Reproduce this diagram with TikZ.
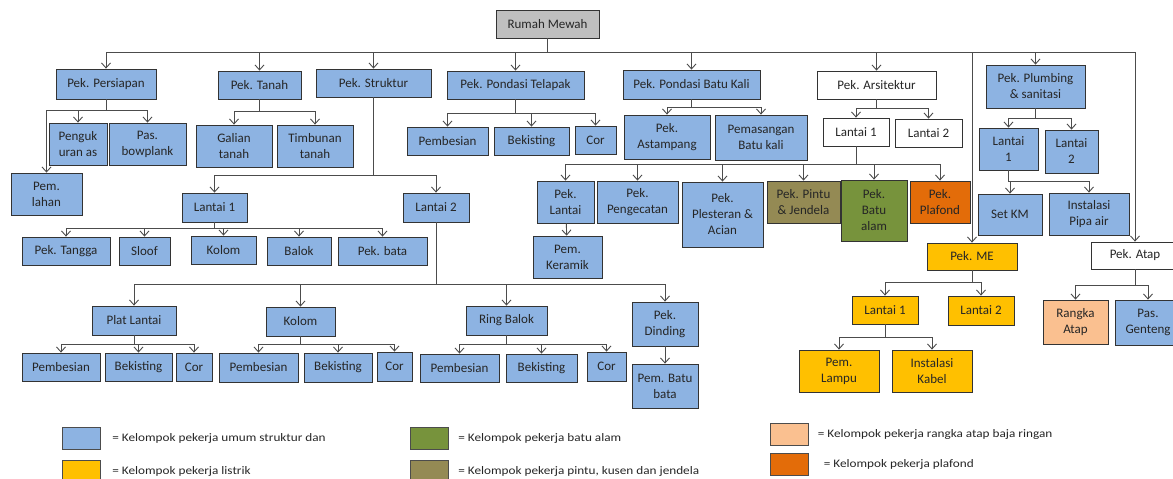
\documentclass[tikz,border=0pt]{standalone}
\usepackage{fontspec}
\setmainfont{Carlito}
\newfontfamily\legfont[FakeStretch=1.15]{Carlito}
\usepackage{tikz}
\usetikzlibrary{arrows.meta,positioning}

\definecolor{boxblue}{HTML}{8DB3E2}
\definecolor{boxgray}{HTML}{BFBFBF}
\definecolor{boxyellow}{HTML}{FFC000}
\definecolor{boxgreen}{HTML}{77933C}
\definecolor{boxolive}{HTML}{948A54}
\definecolor{boxpeach}{HTML}{FAC090}
\definecolor{boxorange}{HTML}{E36C09}

\begin{document}
\begin{tikzpicture}[x=1pt,y=-1pt,->,>={Straight Barb[length=5pt,width=9pt]},
    black!70,line width=0.9pt,
    box/.style={draw=black!80,line width=0.8pt,fill=boxblue,align=center,inner sep=1pt,
      text=black!85,font=\fontsize{13}{16}\selectfont},
    wt/.style={box,fill=white},
    gr/.style={box,fill=boxgray},
    yl/.style={box,fill=boxyellow},
    sz/.style 2 args={minimum width=#1pt,minimum height=#2pt},
    legbox/.style={draw=black!70,line width=0.8pt,minimum width=38pt,minimum height=22pt},
    legtxt/.style={inner sep=0pt,text=black!85,font=\legfont\fontsize{11.5}{13}\selectfont}]
    \useasboundingbox (0,0) rectangle (1173,479);

    % top level
    \node[gr, sz={103}{28}]  (root)     at (547.5,24)   {Rumah Mewah};
    \node[box, sz={100}{30}] (pers)     at (106,84)     {Pek. Persiapan};
    \node[box, sz={83}{28}]  (tanah)    at (259.5,85)   {Pek. Tanah};
    \node[box, sz={115}{28}] (struktur) at (373.5,83)   {Pek. Struktur};
    \node[box, sz={137}{28}] (telapak)  at (515.5,85)   {Pek. Pondasi Telapak};
    \node[box, sz={137}{29}] (batukali) at (691.5,84.5) {Pek. Pondasi Batu Kali};
    \node[wt, sz={119}{28}]  (arsi)     at (876.5,85)   {Pek. Arsitektur};
    \node[box, sz={99}{43}]  (plumb)    at (1035.5,86.5) {Pek. Plumbing\\ \& sanitasi};
    \node[yl, sz={90}{27}]   (me)       at (972,256.5)  {Pek. ME};
    \node[wt, sz={88}{27}]   (atap)     at (1135,255.5) {Pek. Atap};

    % persiapan, tanah
    \node[box, sz={58}{42}] (ukur)     at (78,144)    {Penguk\\ uran as};
    \node[box, sz={77}{42}] (bowplank) at (147.5,144) {Pas.\\ bowplank};
    \node[box, sz={71}{42}] (lahan)    at (46.5,194)  {Pem.\\ lahan};
    \node[box, sz={76}{42}] (galian)   at (234,146)   {Galian\\ tanah};
    \node[box, sz={76}{42}] (timbunan) at (315,146)   {Timbunan\\ tanah};

    % struktur
    \node[box, sz={65}{29}] (sL1)    at (214.5,207.5) {Lantai 1};
    \node[box, sz={66}{29}] (sL2)    at (436,207.5)   {Lantai 2};
    \node[box, sz={88}{28}] (tangga) at (66,251)      {Pek. Tangga};
    \node[box, sz={51}{28}] (sloof)  at (144.5,251)   {Sloof};
    \node[box, sz={65}{28}] (kolom1) at (223.5,250)   {Kolom};
    \node[box, sz={64}{28}] (balok)  at (299,251)     {Balok};
    \node[box, sz={89}{28}] (bata)   at (382.5,251)   {Pek. bata};
    \node[box, sz={84}{29}] (plat)    at (134,320.5)   {Plat Lantai};
    \node[box, sz={69}{29}] (kolom2)  at (300.5,321.5) {Kolom};
    \node[box, sz={81}{29}] (ring)    at (506.5,320.5) {Ring Balok};
    \node[box, sz={66}{44}] (dinding) at (665,324)     {Pek.\\ Dinding};
    \node[box, sz={78}{28}] (pemb1) at (61,367)      {Pembesian};
    \node[box, sz={67}{28}] (bek1)  at (138.5,367)   {Bekisting};
    \node[box, sz={36}{28}] (cor1)  at (194,367)     {Cor};
    \node[box, sz={79}{29}] (pemb2) at (258.5,367.5) {Pembesian};
    \node[box, sz={68}{29}] (bek2)  at (338,367.5)   {Bekisting};
    \node[box, sz={35}{29}] (cor2)  at (394.5,366.5) {Cor};
    \node[box, sz={79}{28}] (pemb3) at (459.5,368)   {Pembesian};
    \node[box, sz={71}{28}] (bek3)  at (541.5,368)   {Bekisting};
    \node[box, sz={39}{29}] (cor3)  at (606.5,366.5) {Cor};
    \node[box, sz={66}{44}] (batubata) at (665,386)  {Pem. Batu\\ bata};

    % pondasi
    \node[box, sz={81}{28}] (pemb0)      at (447.5,141) {Pembesian};
    \node[box, sz={75}{28}] (bek0)       at (531.5,141) {Bekisting};
    \node[box, sz={41}{28}] (cor0)       at (595.5,140) {Cor};
    \node[box, sz={86}{44}] (astampang)  at (667,137)   {Pek.\\ Astampang};
    \node[box, sz={92}{45}] (pemasangan) at (761,137.5) {Pemasangan\\ Batu kali};

    % arsitektur
    \node[wt, sz={66}{28}]  (aL1)      at (856,132)     {Lantai 1};
    \node[wt, sz={67}{28}]  (aL2)      at (928.5,133)   {Lantai 2};
    \node[box, sz={57}{42}] (plantai)  at (565.5,202)   {Pek.\\ Lantai};
    \node[box, sz={81}{42}] (cat)      at (637.5,202)   {Pek.\\ Pengecatan};
    \node[box, sz={81}{65}] (plester)  at (722.5,214.5) {Pek.\\ Plesteran \&\\ Acian};
    \node[box, fill=boxolive, sz={73}{42}]  (pintu)    at (803.5,202) {Pek. Pintu\\ \& Jendela};
    \node[box, fill=boxgreen, sz={66}{61}]  (batualam) at (874,210.5) {Pek.\\ Batu\\ alam};
    \node[box, fill=boxorange, sz={60}{42}] (plafond)  at (940,202)   {Pek.\\ Plafond};
    \node[box, sz={69}{42}] (keramik)  at (567.5,257)   {Pem.\\ Keramik};

    % plumbing
    \node[box, sz={59}{42}] (pL1)   at (1008.5,149)  {Lantai\\ 1};
    \node[box, sz={53}{43}] (pL2)   at (1071.5,151.5) {Lantai\\ 2};
    \node[box, sz={64}{41}] (setkm) at (1010,214.5)  {Set KM};
    \node[box, sz={80}{42}] (pipa)  at (1089,214)    {Instalasi\\ Pipa air};

    % ME, atap
    \node[yl, sz={66}{28}] (mL1)   at (885,310)   {Lantai 1};
    \node[yl, sz={66}{29}] (mL2)   at (981,310.5) {Lantai 2};
    \node[yl, sz={80}{42}] (lampu) at (839,371)   {Pem.\\ Lampu};
    \node[yl, sz={80}{42}] (kabel) at (932,371)   {Instalasi\\ Kabel};
    \node[box, fill=boxpeach, sz={65}{44}] (rangka) at (1075.5,322) {Rangka\\ Atap};
    \node[box, sz={66}{45}] (genteng) at (1148,322.5) {Pas.\\ Genteng};

    % connectors
    \draw (root.south) -- ++(0,14) -| (pers.north);
    \draw (root.south) -- ++(0,14) -| (tanah.north);
    \draw (root.south) -- ++(0,14) -| (struktur.north);
    \draw (root.south) -- ++(0,14) -| (telapak.north);
    \draw (root.south) -- ++(0,14) -| (batukali.north);
    \draw (root.south) -- ++(0,14) -| (arsi.north);
    \draw (root.south) -- ++(0,14) -| (me.north);
    \draw (root.south) -- ++(0,14) -| (plumb.north);
    \draw (root.south) -- ++(0,14) -| (atap.north);

    \draw (pers.south) -- ++(0,11) -| (ukur.north);
    \draw (pers.south) -- ++(0,11) -| (bowplank.north);
    \draw (pers.south) -- ++(0,11) -| (lahan.north);
    \draw (tanah.south) -- ++(0,12) -| (galian.north);
    \draw (tanah.south) -- ++(0,12) -| (timbunan.north);

    \draw (struktur.south) -- ++(0,78) -| (sL1.north);
    \draw (struktur.south) -- ++(0,78) -| (sL2.north);
    \draw (sL1.south) -- ++(0,6) -| (tangga.north);
    \draw (sL1.south) -- ++(0,6) -| (sloof.north);
    \draw (sL1.south) -- ++(0,6) -| (kolom1.north);
    \draw (sL1.south) -- ++(0,6) -| (balok.north);
    \draw (sL1.south) -- ++(0,6) -| (bata.north);
    \draw (sL2.south) -- ++(0,62) -| (plat.north);
    \draw (sL2.south) -- ++(0,62) -| (kolom2.north);
    \draw (sL2.south) -- ++(0,62) -| (ring.north);
    \draw (sL2.south) -- ++(0,62) -| (dinding.north);
    \draw (plat.south) -- ++(0,9) -| (pemb1.north);
    \draw (plat.south) -- ++(0,9) -| (bek1.north);
    \draw (plat.south) -- ++(0,9) -| (cor1.north);
    \draw (kolom2.south) -- ++(0,8) -| (pemb2.north);
    \draw (kolom2.south) -- ++(0,8) -| (bek2.north);
    \draw (kolom2.south) -- ++(0,8) -| (cor2.north);
    \draw (ring.south) -- ++(0,9) -| (pemb3.north);
    \draw (ring.south) -- ++(0,9) -| (bek3.north);
    \draw (ring.south) -- ++(0,9) -| (cor3.north);
    \draw (dinding) -- (batubata);

    \draw (telapak.south) -- ++(0,14) -| (pemb0.north);
    \draw (telapak.south) -- ++(0,14) -| (bek0.north);
    \draw (telapak.south) -- ++(0,14) -| (cor0.north);
    \draw (batukali.south) -- ++(0,8) -| (astampang.north);
    \draw (batukali.south) -- ++(0,8) -| (pemasangan.north);

    \draw (arsi.south) -- ++(0,9) -| (aL1.north);
    \draw (arsi.south) -- ++(0,9) -| (aL2.north);
    \draw (aL1.south) -- ++(0,18) -| (plantai.north);
    \draw (aL1.south) -- ++(0,18) -| (cat.north);
    \draw (aL1.south) -- ++(0,18) -| (plester.north);
    \draw (aL1.south) -- ++(0,18) -| (pintu.north);
    \draw (aL1.south) -- ++(0,18) -| (batualam.north);
    \draw (aL1.south) -- ++(0,18) -| (plafond.north);
    \draw (plantai) -- (keramik);

    \draw (plumb.south) -- ++(0,10) -| (pL1.north);
    \draw (plumb.south) -- ++(0,10) -| (pL2.north);
    \draw (pL1.south) -- ++(0,11) -| (setkm.north);
    \draw (pL1.south) -- ++(0,11) -| (pipa.north);

    \draw (me.south) -- ++(0,12) -| (mL1.north);
    \draw (me.south) -- ++(0,12) -| (mL2.north);
    \draw (mL1.south) -- ++(0,13) -| (lampu.north);
    \draw (mL1.south) -- ++(0,13) -| (kabel.north);
    \draw (atap.south) -- ++(0,16) -| (rangka.north);
    \draw (atap.south) -- ++(0,16) -| (genteng.north);

    % legend
    \node[legbox, fill=boxblue]   (lgblue)   at (81.5,438) {};
    \node[legbox, fill=boxyellow] (lgyellow) at (81.5,471) {};
    \node[legbox, fill=boxgreen]  (lggreen)  at (429.5,438) {};
    \node[legbox, fill=boxolive]  (lgolive)  at (429.5,471) {};
    \node[legbox, fill=boxpeach]  (lgpeach)  at (789,434) {};
    \node[legbox, fill=boxorange] (lgorange) at (789,464) {};
    \node[legtxt, right=11pt of lgblue]   {= Kelompok pekerja umum struktur dan};
    \node[legtxt, right=11pt of lgyellow] {= Kelompok pekerja listrik};
    \node[legtxt, right=9pt of lggreen]   {= Kelompok pekerja batu alam};
    \node[legtxt, right=9pt of lgolive]   {= Kelompok pekerja pintu, kusen dan jendela};
    \node[legtxt, right=9pt of lgpeach]   {= Kelompok pekerja rangka atap baja ringan};
    \node[legtxt, right=15pt of lgorange] {= Kelompok pekerja plafond};
\end{tikzpicture}
\end{document}
